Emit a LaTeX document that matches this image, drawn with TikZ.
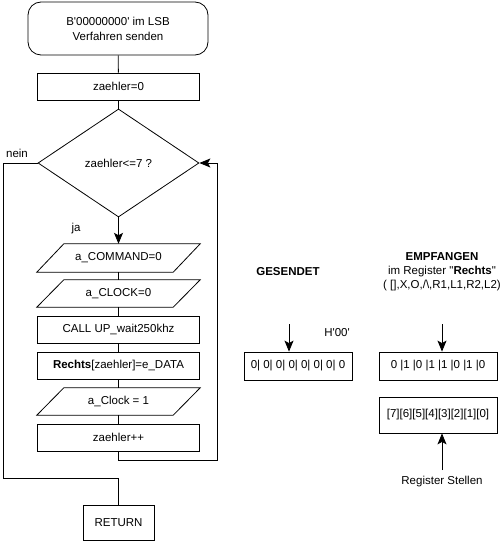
\documentclass[tikz,border=0pt]{standalone}
\usepackage{fontspec}
\setmainfont{Liberation Sans}
\usetikzlibrary{shapes.geometric,arrows.meta,calc}
% slanted input/output box drawn around a named node
\newcommand\iobox[1]{\draw[flow] ($(#1.south west)+(-13.5,0)$) -- ($(#1.north west)+(13.5,0)$) -- ($(#1.north east)+(13.5,0)$) -- ($(#1.south east)+(-13.5,0)$) -- cycle;}
\begin{document}
\begin{tikzpicture}[x=1pt,y=-1pt,
  font=\fontsize{11.5}{14}\selectfont,
  every node/.style={inner sep=0pt},
  flow/.style={line width=0.8pt},
  arr/.style={flow,-{Stealth[length=11pt,width=9pt,inset=2.5pt]}},
  proc/.style={draw,line width=0.8pt,minimum width=162pt,minimum height=27pt},
  io/.style={minimum width=136pt,minimum height=27pt},
  dec/.style={draw,diamond,line width=0.8pt,minimum width=161pt,minimum height=108pt},
  term/.style={draw,line width=0.8pt,rounded corners=13pt,minimum width=180pt,minimum height=53pt,align=center},
  reg/.style={draw,line width=0.8pt,minimum width=118pt},
  lbl/.style={align=center}
]
\useasboundingbox (0,0) rectangle (503,543);
\fill[white] (0,0) rectangle (503,543);

% flow chart
\node[term] (start) at (118,28.5) {B\textquotesingle00000000\textquotesingle{} im LSB\\[1pt]Verfahren senden};
\node[proc] (init) at (118.5,86.5) {zaehler=0};
\node[dec] (test) at (118.5,163) {zaehler<=7 ?};
\node[io,minimum height=28pt] (cmd) at (118.5,258) {a\_COMMAND=0};
\iobox{cmd}
\node[io] (clk0) at (118.5,293.5) {a\_CLOCK=0};
\iobox{clk0}
\node[proc] (wait) at (118.5,329.5) {CALL UP\_wait250khz};
\node[proc] (store) at (118.5,365.5) {\textbf{Rechts}[zaehler]=e\_DATA};
\node[io] (clk1) at (118.5,401.5) {a\_Clock = 1};
\iobox{clk1}
\node[proc] (inc) at (118.5,437.5) {zaehler++};
\node[draw,line width=0.8pt,minimum width=71pt,minimum height=35pt] (ret) at (118.5,522.5) {RETURN};

\draw[flow] (start) -- (init);
\draw[flow] (init) -- (test.north);
\draw[arr] (test.south) -- (cmd.north);
\draw[flow] (cmd.south) -- (clk0.north);
\draw[flow] (clk0.south) -- (wait.north);
\draw[flow] (wait.south) -- (store.north);
\draw[flow] (store.south) -- (clk1.north);
\draw[flow] (clk1.south) -- (inc.north);

\coordinate (loopc) at (217,460);
\draw[arr] (inc.south) |- (loopc) |- (test.east);
\coordinate (exitc) at (3,478);
\draw[flow] (test.west) -| (exitc) -| (ret.north);

\node (nein) at (17,153) {nein};
\node (ja) at (76,229) {ja};

% sent byte
\node[font=\fontsize{11.5}{14}\selectfont\bfseries] (gtitle) at (288,272) {GESENDET};
\node[draw,line width=0.8pt,minimum width=108pt,minimum height=28pt] (sent) at (298,366) {0| 0| 0| 0| 0| 0| 0| 0};
\node (hex) at (337,333) {H\textquotesingle00\textquotesingle};
\coordinate (gsrc) at (289,324);
\draw[arr] (gsrc) -- (gsrc |- sent.north);

% received byte
\node[lbl] (etitle) at (442,272) {\textbf{EMPFANGEN}\\im Register \textquotedbl\textbf{Rechts}\textquotedbl\\( [],X,O,/\textbackslash,R1,L1,R2,L2)};
\node[reg,minimum height=28pt] (recv) at (438,366) {0 |1 |0 |1 |1 |0 |1 |0};
\coordinate (esrc) at (442,324);
\draw[arr] (esrc) -- (esrc |- recv.north);

% bit positions
\node[reg,minimum height=36pt] (pos) at (438,415) {[7][6][5][4][3][2][1][0]};
\node (poslbl) at (442,482) {Register Stellen};
\coordinate (psrc) at (442,470);
\draw[arr] (psrc) -- (psrc |- pos.south);
\end{tikzpicture}
\end{document}
